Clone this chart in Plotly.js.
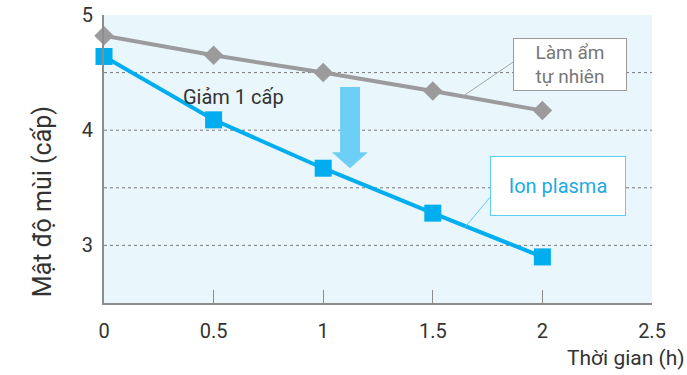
<!DOCTYPE html>
<html>
<head>
<meta charset="utf-8">
<script src="https://cdn.plot.ly/plotly-3.0.1.min.js"></script>
<style>html,body{margin:0;padding:0;background:#fff;}#chart{width:687px;height:375px;}</style>
</head>
<body>
<div id="chart"></div>
<script>
// ---- data ----
const hours = [0, 0.5, 1, 1.5, 2];
const lamAmTuNhien = [4.82, 4.65, 4.50, 4.34, 4.17];
const ionPlasma = [4.64, 4.09, 3.67, 3.28, 2.90];
const xTickVals = [0, 0.5, 1, 1.5, 2, 2.5];
const xTickText = ["0", "0.5", "1", "1.5", "2", "2.5"];
const yTickVals = [3, 4, 5];
const yTickText = ["3", "4", "5"];
const gridY = [3, 3.5, 4, 4.5];
const seriesNames = ["Làm ẩm<br>tự nhiên", "Ion plasma"];
const yTitle = "Mật độ mùi (cấp)";
const xTitle = "Thời gian (h)";
const dropLabel = "Giảm 1 cấp";

const FONT = "Roboto, 'Noto Sans', sans-serif";
const GRAY = "#9b9b9d";
const BLUE = "#00aeef";

const traces = [
  {x: hours, y: lamAmTuNhien, type: "scatter", mode: "lines+markers",
   line: {color: GRAY, width: 4}, marker: {symbol: "diamond", size: 15, color: GRAY},
   hoverinfo: "skip", cliponaxis: false},
  {x: hours, y: ionPlasma, type: "scatter", mode: "lines+markers",
   line: {color: BLUE, width: 4}, marker: {symbol: "square", size: 17, color: BLUE},
   hoverinfo: "skip", cliponaxis: false}
];

const shapes = gridY.map(v => ({
  type: "line", xref: "paper", x0: 0, x1: 1, yref: "y", y0: v, y1: v,
  line: {color: "#7a7a7a", width: 1, dash: "3px,3px"}, layer: "below"
}));
// down arrow
shapes.push({
  type: "path", xref: "x", yref: "y", layer: "above",
  path: "M 1.077 4.374 L 1.168 4.374 L 1.168 3.809 L 1.204 3.809 L 1.122 3.670 L 1.040 3.809 L 1.077 3.809 Z",
  fillcolor: "#6dcff6", line: {width: 0}
});
// connectors
shapes.push({type: "line", xref: "x", yref: "y", x0: 1.866, y0: 4.591, x1: 1.638, y1: 4.296,
  line: {color: "#a5a5a5", width: 1}});
shapes.push({type: "line", xref: "x", yref: "y", x0: 1.761, y0: 3.417, x1: 1.647, y1: 3.157,
  line: {color: "#5ccdf3", width: 1}});

const annotations = [
  {x: 2.126, y: 4.570, xref: "x", yref: "y", text: seriesNames[0], showarrow: false,
   font: {family: FONT, size: 19, color: "#777"}, bgcolor: "#fff", bordercolor: "#9a9a9a",
   borderwidth: 1, borderpad: 0, width: 112, height: 51, align: "center"},
  {x: 2.071, y: 3.513, xref: "x", yref: "y", text: seriesNames[1], showarrow: false,
   font: {family: FONT, size: 20, color: "#1eaae4"}, bgcolor: "#fff", bordercolor: "#5ccdf3",
   borderwidth: 1, borderpad: 0, width: 134, height: 58, align: "center"},
  {x: 0.593, y: 4.29, xref: "x", yref: "y", text: dropLabel, showarrow: false,
   font: {family: FONT, size: 20, color: "#333"}},
  {x: 1, y: 0, xref: "paper", yref: "paper", xanchor: "right", yanchor: "top", xshift: 35, yshift: -41,
   text: xTitle, showarrow: false, font: {family: FONT, size: 21, color: "#333"}},
  {x: 0, y: 0.35, xref: "paper", yref: "paper", xanchor: "center", yanchor: "middle", xshift: -62,
   text: yTitle, textangle: -90, showarrow: false, font: {family: FONT, size: 25, color: "#333"}}
];

const layout = {
  width: 687, height: 375,
  margin: {l: 104, r: 35, t: 15, b: 72},
  paper_bgcolor: "#fff", plot_bgcolor: "#e9f6fc",
  showlegend: false,
  font: {family: FONT, color: "#333"},
  xaxis: {range: [0, 2.5], tickvals: xTickVals, ticktext: xTickText, showgrid: false, zeroline: false,
    showline: true, linecolor: "#8c8c8c", linewidth: 2, ticks: "inside", ticklen: 13, tickwidth: 1,
    tickcolor: "#8c8c8c", ticklabelstandoff: 9, tickfont: {family: FONT, size: 20, color: "#333"}},
  yaxis: {range: [2.5, 5], tickvals: yTickVals, ticktext: yTickText, showgrid: false, zeroline: false,
    showline: true, linecolor: "#8c8c8c", linewidth: 2, ticks: "", ticklabelstandoff: 5,
    tickfont: {family: FONT, size: 20, color: "#333"}},
  shapes: shapes,
  annotations: annotations
};

Plotly.newPlot("chart", traces, layout, {staticPlot: true, displayModeBar: false});
</script>
</body>
</html>
